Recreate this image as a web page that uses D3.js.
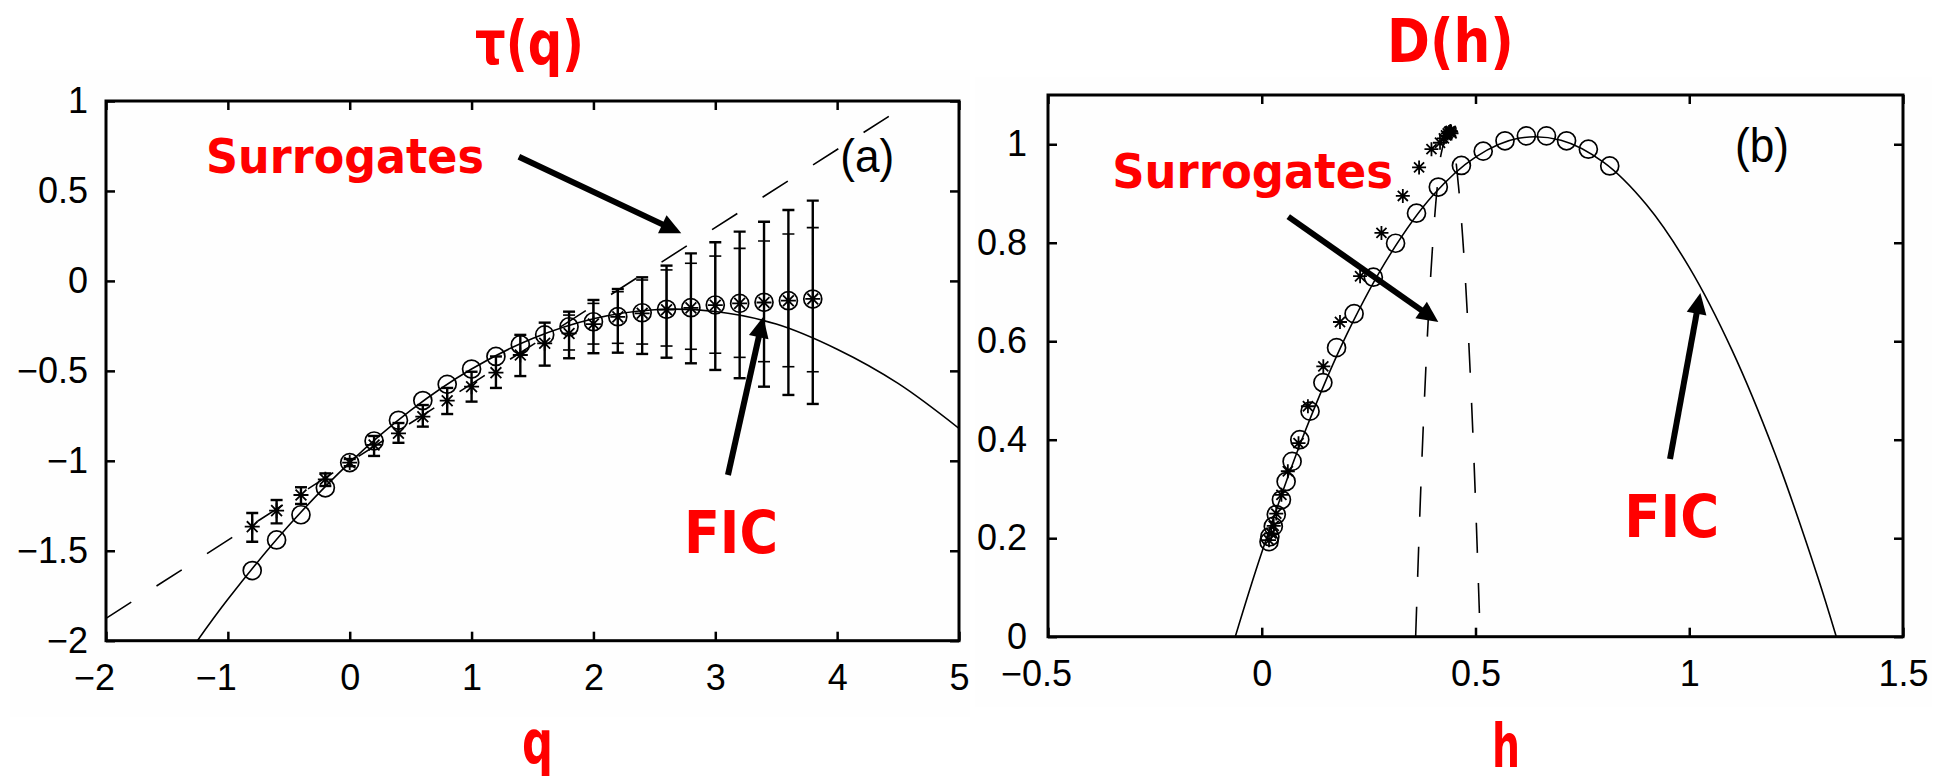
<!DOCTYPE html>
<html>
<head>
<meta charset="utf-8">
<script src="https://cdn.jsdelivr.net/npm/d3@7"></script>
<style>
body { margin: 0; background: #fff; }
svg text { font-family: "Liberation Sans", Arial, sans-serif; }
.red { fill: #ff0000; font-family: "DejaVu Sans", sans-serif; font-weight: bold; }
</style>
</head>
<body>
<svg id="chart" width="1952" height="782"></svg>
<script>
`use strict`;

// ---- panel (a): tau(q) ----
let tauQ   = [-0.8, -0.6, -0.4, -0.2, 0, 0.2, 0.4, 0.6, 0.8, 1.0, 1.2, 1.4, 1.6, 1.8, 2.0, 2.2, 2.4, 2.6, 2.8, 3.0, 3.2, 3.4, 3.6, 3.8];
let tauFic = [-1.61, -1.44, -1.30, -1.15, -1.01, -0.89, -0.775, -0.665, -0.575, -0.49, -0.42, -0.355, -0.30, -0.255, -0.227, -0.199, -0.177, -0.158, -0.149, -0.134, -0.125, -0.119, -0.110, -0.101];
let tauSur = [-1.366, -1.277, -1.19, -1.103, -1.01, -0.912, -0.847, -0.755, -0.666, -0.588, -0.51, -0.412, -0.347, -0.292, -0.24, -0.20, -0.18, -0.16, -0.15, -0.135, -0.125, -0.12, -0.11, -0.10];
let tauSurLo = [-1.45, -1.348, -1.24, -1.14, -1.03, -0.973, -0.90, -0.81, -0.74, -0.671, -0.595, -0.529, -0.471, -0.43, -0.402, -0.399, -0.406, -0.427, -0.458, -0.495, -0.541, -0.588, -0.634, -0.684];
let tauSurHi = [-1.29, -1.218, -1.147, -1.07, -0.99, -0.862, -0.79, -0.69, -0.595, -0.505, -0.42, -0.30, -0.232, -0.171, -0.106, -0.045, 0.020, 0.085, 0.153, 0.215, 0.274, 0.329, 0.394, 0.446];
let tauInnerQ  = [1.8, 2.0, 2.2, 2.4, 2.6, 2.8, 3.0, 3.2, 3.4, 3.6, 3.8];
let tauInnerLo = [-0.384, -0.351, -0.347, -0.351, -0.362, -0.380, -0.402, -0.425, -0.449, -0.477, -0.505];
let tauInnerHi = [-0.19, -0.125, -0.060, 0.005, 0.061, 0.098, 0.138, 0.181, 0.222, 0.261, 0.296];
let tauFitQ = [-1.25, -1.0, -0.5, 0, 0.5, 1.0, 1.5, 2.0, 2.5, 3.0, 3.5, 4.0, 4.5, 5.0];
let tauFitV = [-2.0, -1.77, -1.36, -1.01, -0.72, -0.49, -0.32, -0.21, -0.16, -0.17, -0.24, -0.38, -0.57, -0.82];
let tauLinQ = [-2, 4.62];
let tauLinV = [-1.876, 1.0];
let tauXTicks = [-2, -1, 0, 1, 2, 3, 4, 5];
let tauYTicks = [-2, -1.5, -1, -0.5, 0, 0.5, 1];

// ---- panel (b): D(h) ----
let dhFicH = [0.017, 0.019, 0.027, 0.034, 0.046, 0.057, 0.071, 0.089, 0.113, 0.143, 0.175, 0.216, 0.261, 0.313, 0.362, 0.413, 0.467, 0.518, 0.569, 0.619, 0.666, 0.713, 0.764, 0.814];
let dhFicD = [0.193, 0.203, 0.224, 0.248, 0.278, 0.315, 0.356, 0.40, 0.458, 0.516, 0.587, 0.656, 0.730, 0.799, 0.860, 0.913, 0.957, 0.986, 1.007, 1.017, 1.017, 1.007, 0.990, 0.956];
let dhSurH = [0.017, 0.022, 0.028, 0.034, 0.046, 0.061, 0.086, 0.108, 0.144, 0.183, 0.230, 0.280, 0.330, 0.368, 0.397, 0.417, 0.426, 0.431, 0.435, 0.438, 0.440, 0.442, 0.443, 0.444];
let dhSurD = [0.196, 0.21, 0.225, 0.25, 0.288, 0.336, 0.393, 0.468, 0.549, 0.639, 0.732, 0.820, 0.895, 0.953, 0.990, 1.003, 1.012, 1.018, 1.022, 1.025, 1.026, 1.027, 1.025, 1.022];
let dhFitH = [-0.062, 0, 0.1, 0.2, 0.3, 0.4, 0.5, 0.6, 0.7, 0.8, 0.9, 1.0, 1.1, 1.2, 1.3, 1.344];
let dhFitD = [0, 0.171, 0.414, 0.616, 0.776, 0.896, 0.974, 1.012, 1.008, 0.963, 0.877, 0.750, 0.582, 0.373, 0.123, 0];
let dhSurFitH = [0.360, 0.370, 0.380, 0.390, 0.400, 0.410, 0.420, 0.4355, 0.450, 0.460, 0.470, 0.480, 0.490, 0.500, 0.511];
let dhSurFitD = [0, 0.254, 0.471, 0.653, 0.798, 0.908, 0.982, 1.025, 0.987, 0.917, 0.811, 0.669, 0.491, 0.277, 0];
let dhXTicks = [-0.5, 0, 0.5, 1, 1.5];
let dhYTicks = [0, 0.2, 0.4, 0.6, 0.8, 1];

let svg = d3.select('#chart');
let fmt = d3.format('');

// very faint page blocks behind each panel
svg.append('rect').attr('x', 10).attr('y', 70).attr('width', 960).attr('height', 647).attr('fill', '#fefefe');
svg.append('rect').attr('x', 975).attr('y', 77).attr('width', 957).attr('height', 630).attr('fill', '#fefefe');

let line = d3.line().x((d) => d[0]).y((d) => d[1]);

function starPath(x, y, s) {
    let k = s * 0.72;
    return `M${x - s},${y}L${x + s},${y}M${x},${y - s}L${x},${y + s}` +
        `M${x - k},${y - k}L${x + k},${y + k}M${x - k},${y + k}L${x + k},${y - k}`;
}

function arrow(g, x1, y1, x2, y2) {
    let dx = x2 - x1, dy = y2 - y1;
    let len = Math.sqrt(dx * dx + dy * dy);
    let ux = dx / len, uy = dy / len;
    let hl = 21, hw = 10;
    let bx = x2 - ux * hl, by = y2 - uy * hl;
    g.append('line').attr('x1', x1).attr('y1', y1).attr('x2', bx + ux * 2).attr('y2', by + uy * 2)
        .attr('stroke', '#000').attr('stroke-width', 6);
    g.append('path')
        .attr('d', `M${x2},${y2}L${bx - uy * hw},${by + ux * hw}L${bx + uy * hw},${by - ux * hw}Z`)
        .attr('fill', '#000');
}

function redText(g, str, x, y, size, width) {
    g.append('text').classed('red', true)
        .attr('x', x).attr('y', y)
        .attr('font-size', size)
        .attr('textLength', width).attr('lengthAdjust', 'spacingAndGlyphs')
        .text(str);
}

function frame(g, box, sx, sy, xTicks, yTicks, yPad) {
    let tick = 9;
    let ax = g.append('g').attr('transform', `translate(0,${box.y1})`)
        .call(d3.axisBottom(sx).tickValues(xTicks).tickFormat(fmt).tickSizeInner(-tick).tickSizeOuter(0).tickPadding(24));
    ax.selectAll('text').filter((d) => d < 0).attr('dx', -12);
    g.append('g').attr('transform', `translate(${box.x0},0)`)
        .call(d3.axisLeft(sy).tickValues(yTicks).tickFormat(fmt).tickSizeInner(-tick).tickSizeOuter(0).tickPadding(yPad));
    g.append('g').attr('transform', `translate(0,${box.y0})`)
        .call(d3.axisTop(sx).tickValues(xTicks).tickFormat('').tickSizeInner(-tick).tickSizeOuter(0));
    g.append('g').attr('transform', `translate(${box.x1},0)`)
        .call(d3.axisRight(sy).tickValues(yTicks).tickFormat('').tickSizeInner(-tick).tickSizeOuter(0));
    g.selectAll('.domain').remove();
    g.selectAll('.tick line').attr('stroke', '#000').attr('stroke-width', 2.5);
    g.selectAll('.tick text').attr('fill', '#000').attr('font-size', 36)
        .attr('font-family', '"Liberation Sans", Arial, sans-serif');
    g.append('rect').attr('x', box.x0).attr('y', box.y0)
        .attr('width', box.x1 - box.x0).attr('height', box.y1 - box.y0)
        .attr('fill', 'none').attr('stroke', '#000').attr('stroke-width', 3);
}

// ================= panel (a) =================
let boxA = {x0: 106, x1: 959, y0: 101, y1: 640.7};
let xA = d3.scaleLinear().domain([-2, 5]).range([boxA.x0, boxA.x1]);
let yA = d3.scaleLinear().domain([-2, 1]).range([boxA.y1, boxA.y0]);
let gA = svg.append('g');
svg.append('clipPath').attr('id', 'clipA').append('rect')
    .attr('x', boxA.x0).attr('y', boxA.y0).attr('width', boxA.x1 - boxA.x0).attr('height', boxA.y1 - boxA.y0);
let plotA = gA.append('g').attr('clip-path', 'url(#clipA)');

// dashed surrogate line
plotA.append('path')
    .datum(tauLinQ.map((q, i) => [xA(q), yA(tauLinV[i])]))
    .attr('d', line).attr('fill', 'none').attr('stroke', '#000')
    .attr('stroke-width', 1.6).attr('stroke-dasharray', '30,30');

// FIC fit curve
plotA.append('path')
    .datum(tauFitQ.map((q, i) => [xA(q), yA(tauFitV[i])]))
    .attr('d', line.curve(d3.curveCatmullRom)).attr('fill', 'none')
    .attr('stroke', '#000').attr('stroke-width', 1.6);
line.curve(d3.curveLinear);

// error bars: surrogates (outer) and FIC (inner)
function errBars(q, lo, hi, width, cap) {
    q.forEach((v, i) => {
        let x = xA(v);
        plotA.append('line').attr('x1', x).attr('x2', x).attr('y1', yA(lo[i])).attr('y2', yA(hi[i]))
            .attr('stroke', '#000').attr('stroke-width', width);
        [lo[i], hi[i]].forEach((e) => {
            plotA.append('line').attr('x1', x - cap).attr('x2', x + cap).attr('y1', yA(e)).attr('y2', yA(e))
                .attr('stroke', '#000').attr('stroke-width', width);
        });
    });
}
errBars(tauQ, tauSurLo, tauSurHi, 2.4, 6);
errBars(tauInnerQ, tauInnerLo, tauInnerHi, 1.6, 6);

// markers
plotA.selectAll('circle.fic').data(tauQ).enter().append('circle')
    .attr('cx', (d) => xA(d)).attr('cy', (d, i) => yA(tauFic[i])).attr('r', 9)
    .attr('fill', 'none').attr('stroke', '#000').attr('stroke-width', 1.7);
plotA.selectAll('path.sur').data(tauQ).enter().append('path')
    .attr('d', (d, i) => starPath(xA(d), yA(tauSur[i]), 7.5))
    .attr('stroke', '#000').attr('stroke-width', 1.8).attr('fill', 'none');

frame(gA, boxA, xA, yA, tauXTicks, tauYTicks, 18);

gA.append('text').attr('x', xA(4.025)).attr('y', yA(0.605))
    .attr('font-family', '"Liberation Serif", "Times New Roman", serif').attr('font-size', 46)
    .attr('textLength', 54).attr('lengthAdjust', 'spacingAndGlyphs').text('(a)');

redText(gA, 'τ(q)', 475, 64, 60, 109);
redText(gA, 'q', 522, 763, 60, 31);
redText(gA, 'Surrogates', xA(-1.179), yA(0.60), 48, 278);
redText(gA, 'FIC', xA(2.743), yA(-1.513), 58, 94);
arrow(gA, xA(1.388), yA(0.690), xA(2.721), yA(0.265));
arrow(gA, xA(3.104), yA(-1.079), xA(3.394), yA(-0.199));

// ================= panel (b) =================
let boxB = {x0: 1048, x1: 1903, y0: 95, y1: 636.7};
let xB = d3.scaleLinear().domain([-0.5, 1.5]).range([boxB.x0, boxB.x1]);
let yB = d3.scaleLinear().domain([0, 1.1]).range([boxB.y1, boxB.y0]);
let gB = svg.append('g');
svg.append('clipPath').attr('id', 'clipB').append('rect')
    .attr('x', boxB.x0).attr('y', boxB.y0).attr('width', boxB.x1 - boxB.x0).attr('height', boxB.y1 - boxB.y0);
let plotB = gB.append('g').attr('clip-path', 'url(#clipB)');

plotB.append('path')
    .datum(dhSurFitH.map((h, i) => [xB(h), yB(dhSurFitD[i])]))
    .attr('d', line.curve(d3.curveCatmullRom)).attr('fill', 'none').attr('stroke', '#000')
    .attr('stroke-width', 1.6).attr('stroke-dasharray', '30,30');
plotB.append('path')
    .datum(dhFitH.map((h, i) => [xB(h), yB(dhFitD[i])]))
    .attr('d', line.curve(d3.curveCatmullRom)).attr('fill', 'none')
    .attr('stroke', '#000').attr('stroke-width', 1.6);
line.curve(d3.curveLinear);

plotB.selectAll('circle.fic').data(dhFicH).enter().append('circle')
    .attr('cx', (d) => xB(d)).attr('cy', (d, i) => yB(dhFicD[i])).attr('r', 9)
    .attr('fill', 'none').attr('stroke', '#000').attr('stroke-width', 1.7);
plotB.selectAll('path.sur').data(dhSurH).enter().append('path')
    .attr('d', (d, i) => starPath(xB(d), yB(dhSurD[i]), 7))
    .attr('stroke', '#000').attr('stroke-width', 1.8).attr('fill', 'none');

frame(gB, boxB, xB, yB, dhXTicks, dhYTicks, 21);

gB.append('text').attr('x', xB(1.107)).attr('y', yB(0.963))
    .attr('font-family', '"Liberation Serif", "Times New Roman", serif').attr('font-size', 48)
    .attr('textLength', 54).attr('lengthAdjust', 'spacingAndGlyphs').text('(b)');

redText(gB, 'D(h)', 1387, 62, 60, 127);
redText(gB, 'h', 1492, 767, 60, 28);
redText(gB, 'Surrogates', xB(-0.35), yB(0.912), 48, 281);
redText(gB, 'FIC', xB(0.848), yB(0.203), 58, 95);
arrow(gB, xB(0.062), yB(0.853), xB(0.413), yB(0.639));
arrow(gB, xB(0.955), yB(0.361), xB(1.026), yB(0.698));
</script>
</body>
</html>
